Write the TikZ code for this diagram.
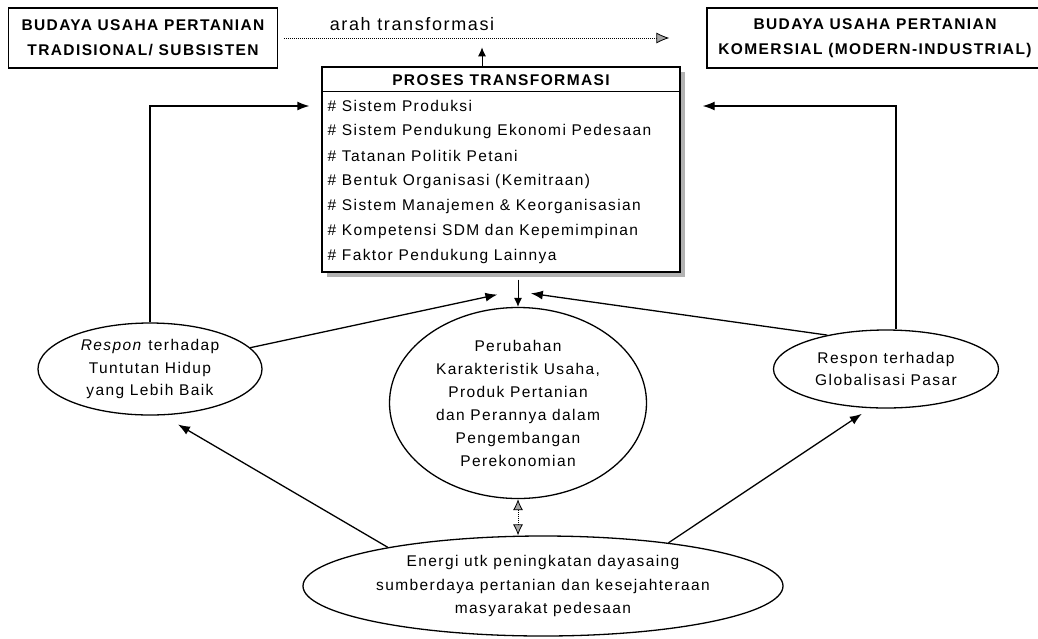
\documentclass[tikz,border=0pt]{standalone}
\usepackage{fontspec}
\setmainfont{Liberation Sans}[LetterSpace=9]
\usetikzlibrary{arrows.meta,shapes.geometric,shadows}

\begin{document}
\begin{tikzpicture}[x=1pt,y=-1pt,line width=1.3pt,>={Latex[length=12pt,width=9pt]},
        every node/.style={font=\fontsize{15.5}{22.5}\selectfont}]
        % Styles
        \tikzstyle{kotak} = [rectangle, draw, align=center, inner sep=0pt,
                             minimum height=60pt, font=\bfseries\fontsize{15.5}{25}\selectfont]
        \tikzstyle{kotakproses} = [rectangle, draw, fill=white, inner sep=0pt,
                             minimum width=358pt, minimum height=205pt,
                             drop shadow={shadow xshift=5pt, shadow yshift=-5pt, fill=gray!60, opacity=1}]
        \tikzstyle{elips} = [ellipse, draw, align=center, inner sep=0pt]
        \tikzstyle{butir} = [anchor=west, inner sep=0pt]
        \tikzstyle{panah} = [->]
        \tikzstyle{panahkecil} = [-{Latex[length=9pt,width=8pt]}, line width=0.9pt]
        \tikzstyle{panahtitik} = [-{Latex[length=13pt,width=11pt,fill=gray!70]},
                                  line width=0.8pt, dash pattern=on 1pt off 1pt]

        \useasboundingbox (0,0) rectangle (1038,638);
        \clip (0,0) rectangle (1038,638);

        % ==== Top row ====
        \node[kotak, minimum width=269pt] (tradisional) at (143,38)
             {BUDAYA USAHA PERTANIAN\\TRADISIONAL/ SUBSISTEN};
        \node[kotak, minimum width=336pt] (komersial) at (875,38)
             {BUDAYA USAHA PERTANIAN\\KOMERSIAL (MODERN-INDUSTRIAL)};
        \node[font=\fontsize{18}{20}\selectfont] (arah) at (412,24) {arah transformasi};

        % ==== Process box ====
        \node[kotakproses] (proses) at (501,169.5) {};
        \node[font=\bfseries\fontsize{15.5}{17}\selectfont] (judul) at (501,80) {PROSES TRANSFORMASI};
        \draw ([yshift=-25pt]proses.north west) -- ([yshift=-25pt]proses.north east);
        \foreach \isi [count=\i from 0] in {Sistem Produksi,
                Sistem Pendukung Ekonomi Pedesaan, Tatanan Politik Petani,
                Bentuk Organisasi (Kemitraan), Sistem Manajemen \& Keorganisasian,
                Kompetensi SDM dan Kepemimpinan, Faktor Pendukung Lainnya}
            \node[butir] (butir\i) at (327,106+25*\i) {\# \isi};

        % ==== Ellipses ====
        \node[elips, minimum width=224pt, minimum height=92pt] (respkiri) at (150,369)
             {\textit{Respon} terhadap\\Tuntutan Hidup\\yang Lebih Baik};
        \node[elips, minimum width=225pt, minimum height=78pt] (resppasar) at (886,369)
             {Respon terhadap\\Globalisasi Pasar};
        \node[elips, minimum width=257pt, minimum height=191pt,
              font=\fontsize{15.5}{23}\selectfont] (perubahan) at (518,403)
             {Perubahan\\Karakteristik Usaha,\\Produk Pertanian\\dan Perannya dalam\\Pengembangan\\Perekonomian};
        \node[elips, minimum width=480pt, minimum height=100pt,
              font=\fontsize{15.5}{23.5}\selectfont] (energi) at (543,586)
             {Energi utk peningkatan dayasaing\\sumberdaya pertanian dan kesejahteraan\\masyarakat pedesaan};

        \coordinate (temu) at (514,291);

        % ==== Arrows ====
        \draw[panahtitik] ([xshift=6pt]tradisional.east) -- ([xshift=-37pt]komersial.west);
        \draw[panahkecil] ([xshift=-19pt]proses.north) -- ++(0,-19);

        % loops back to the process box
        \draw[panah, shorten >=12pt] (respkiri.north) |- (proses.west |- butir0.west);
        \draw[panah, shorten >=22pt] ([xshift=10pt]resppasar.north) |- (proses.east |- butir0.west);

        % into the junction under the box
        \draw[panah, shorten >=17pt] (respkiri.12) -- (temu);
        \draw[panah, shorten >=17pt] (resppasar.150) -- (temu);
        \draw[panahkecil, shorten <=7pt] (perubahan.north |- proses.south) -- (perubahan.north);

        % from the bottom ellipse
        \draw[panah, shorten >=18pt] (energi.166) -- (respkiri.-75);
        \draw[panah, shorten >=10pt] (energi.19) -- (resppasar.-112);
        \draw[{Latex[length=11pt,width=10pt,fill=gray!70]}-{Latex[length=11pt,width=10pt,fill=gray!70]},
              line width=0.8pt, dash pattern=on 1pt off 1pt]
             (perubahan.south) -- (perubahan.south |- energi.north);
\end{tikzpicture}
\end{document}
